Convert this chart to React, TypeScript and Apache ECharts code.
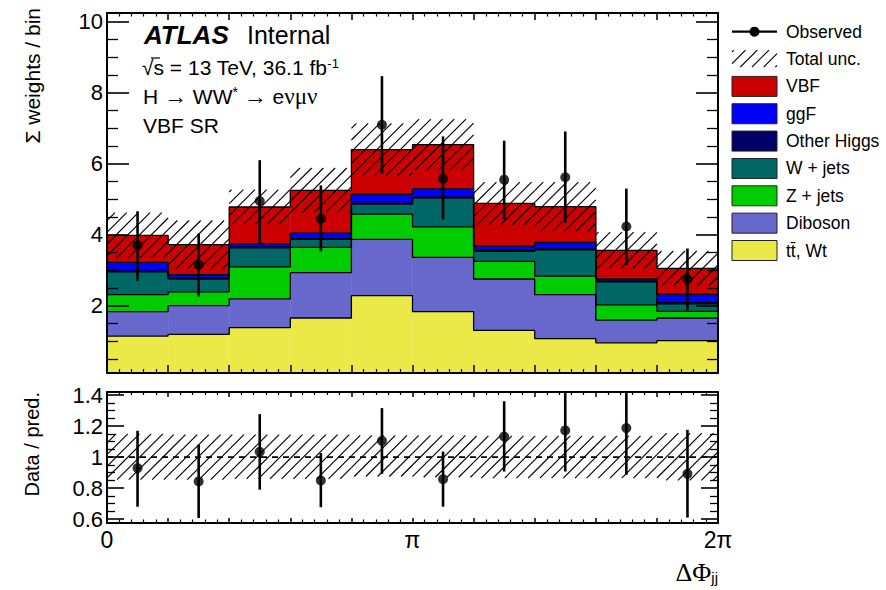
import React, { useEffect, useRef } from "react";
import * as echarts from "echarts";

// ---------------- data ----------------
const binCount = 10;
const xTickValues = [0, 5, 10];
const xTickLabels = ["0", "π", "2π"];
const yTopTicks = [2, 4, 6, 8, 10];
const yTopTickLabels = ["2", "4", "6", "8", "10"];
const yRatioTicks = [0.6, 0.8, 1, 1.2, 1.4];
const yRatioTickLabels = ["0.6", "0.8", "1", "1.2", "1.4"];

// stack components, bottom to top
const ttbarWt = [1.14, 1.19, 1.38, 1.65, 2.28, 1.83, 1.3, 1.07, 0.95, 1.01];
const diboson = [0.69, 0.81, 0.81, 1.28, 1.59, 1.53, 1.45, 1.24, 0.64, 0.64];
const zJets = [0.48, 0.39, 0.9, 0.71, 0.71, 0.86, 0.5, 0.52, 0.43, 0.19];
const wJets = [0.64, 0.36, 0.54, 0.23, 0.28, 0.81, 0.28, 0.74, 0.65, 0.21];
const otherHiggs = [0.02, 0.02, 0.02, 0.02, 0.03, 0.03, 0.03, 0.03, 0.03, 0.03];
const ggF = [0.25, 0.1, 0.09, 0.15, 0.25, 0.23, 0.12, 0.18, 0.05, 0.24];
const vbf = [0.76, 0.85, 1.04, 1.21, 1.26, 1.25, 1.2, 1.01, 0.81, 0.73];

const totalUnc = [0.64, 0.68, 0.49, 0.63, 0.74, 0.72, 0.6, 0.69, 0.51, 0.49];

const observed = [3.7, 3.15, 4.95, 4.45, 7.1, 5.58, 5.55, 5.62, 4.23, 2.74];
const observedLow = [2.7, 2.26, 3.76, 3.53, 5.72, 4.43, 4.43, 4.34, 3.15, 1.86];
const observedHigh = [4.66, 4.03, 6.1, 5.39, 8.47, 6.77, 6.65, 6.91, 5.3, 3.61];

const ratio = [0.929, 0.843, 1.034, 0.849, 1.105, 0.858, 1.133, 1.172, 1.187, 0.892];
const ratioLow = [0.68, 0.607, 0.79, 0.677, 0.892, 0.68, 0.907, 0.907, 0.886, 0.61];
const ratioHigh = [1.17, 1.08, 1.277, 1.026, 1.316, 1.036, 1.36, 1.44, 1.49, 1.176];
const ratioBandLow = [0.855, 0.855, 0.86, 0.86, 0.875, 0.87, 0.865, 0.865, 0.865, 0.85];
const ratioBandHigh = [1.15, 1.145, 1.145, 1.145, 1.14, 1.14, 1.137, 1.137, 1.137, 1.155];

const componentNames = ["tt̄, Wt", "Diboson", "Z + jets", "W + jets", "Other Higgs", "ggF", "VBF"];
const componentValues = [ttbarWt, diboson, zJets, wJets, otherHiggs, ggF, vbf];

// ---------------- styles ----------------
const componentColors = ["#EBE948", "#6767CC", "#00CC00", "#006767", "#000066", "#0000FF", "#CC0000"];
const FONT = "'Liberation Sans', Arial, Helvetica, sans-serif";
const SERIF = "'Liberation Serif', 'DejaVu Serif', serif";
const TOP_GRID = { left: 107, top: 13, width: 611, height: 360 };
const RAT_GRID = { left: 107, top: 392, width: 611, height: 131 };
const Y_TOP = [0.1, 10.25];
const Y_RAT = [0.575, 1.42];
const HATCH = 11.7;
const HATCH_W = 1.15;

function rangeSteps(a: number, b: number, step: number, skip: number[]) {
  const out: number[] = [];
  for (let k = 0; ; k++) {
    const v = Math.round((a + k * step) * 1000) / 1000;
    if (v > b + 1e-9) break;
    if (!skip.some((s) => Math.abs(s - v) < 1e-9)) out.push(v);
  }
  return out;
}

function hatchLines(x0: number, y0: number, x1: number, y1: number, s: number, lw: number) {
  const res: any[] = [];
  const cStart = Math.ceil((x0 + y0) / s) * s;
  for (let c = cStart; c <= x1 + y1; c += s) {
    const xa = Math.max(x0, c - y1);
    const xb = Math.min(x1, c - y0);
    if (xb - xa > 0.4) {
      res.push({
        type: "line",
        shape: { x1: xa, y1: c - xa, x2: xb, y2: c - xb },
        style: { stroke: "#000", lineWidth: lw },
      });
    }
  }
  return res;
}

function xAxisDef(gridIndex: number, position: string, majorLen: number, minorLen: number, labels: boolean) {
  return {
    type: "value",
    gridIndex,
    position,
    min: 0,
    max: binCount,
    interval: 1,
    z: 10,
    axisLine: { show: true, onZero: false, lineStyle: { color: "#000", width: 2 } },
    axisTick: { show: true, inside: true, length: majorLen, lineStyle: { color: "#000", width: 1.5 } },
    minorTick: { show: true, splitNumber: 5, length: minorLen, lineStyle: { color: "#000", width: 1.2 } },
    splitLine: { show: false },
    minorSplitLine: { show: false },
    axisLabel: labels
      ? {
          show: true,
          customValues: xTickValues,
          showMinLabel: true,
          showMaxLabel: true,
          margin: 5,
          color: "#000",
          fontSize: 23,
          fontFamily: FONT,
          formatter: (v: number) => {
            const idx = xTickValues.findIndex((t) => Math.abs(t - v) < 1e-6);
            return idx >= 0 ? xTickLabels[idx] : "";
          },
        }
      : { show: false },
  };
}

function yAxisDef(
  gridIndex: number,
  position: string,
  range: number[],
  values: number[],
  len: number,
  width: number,
  labels: string[] | null,
  showLine: boolean
) {
  return {
    type: "value",
    gridIndex,
    position,
    min: range[0],
    max: range[1],
    z: 10,
    axisLine: { show: showLine, onZero: false, lineStyle: { color: "#000", width: 2 } },
    axisTick: { show: true, inside: true, length: len, customValues: values, lineStyle: { color: "#000", width } },
    minorTick: { show: false },
    splitLine: { show: false },
    axisLabel: labels
      ? {
          show: true,
          customValues: values,
          margin: 4,
          color: "#000",
          fontSize: 22,
          fontFamily: FONT,
          formatter: (v: number) => {
            const idx = values.findIndex((t) => Math.abs(t - v) < 1e-6);
            return idx >= 0 ? labels[idx] : "";
          },
        }
      : { show: false },
  };
}

function buildOption() {
  // cumulative stack bases
  const bases: number[][] = [];
  let base = new Array(binCount).fill(0);
  componentValues.forEach((vals) => {
    bases.push(base.slice());
    base = base.map((b, i) => b + vals[i]);
  });
  const totals = base;

  const series: any[] = [];

  // stack fills
  componentValues.forEach((vals, k) => {
    series.push({
      type: "custom",
      name: componentNames[k],
      xAxisIndex: 0,
      yAxisIndex: 0,
      z: 2,
      silent: true,
      data: vals.map((v, i) => [i, bases[k][i], bases[k][i] + v]),
      renderItem: (params: any, api: any) => {
        const cs = params.coordSys;
        const i = api.value(0);
        const a = api.coord([i, api.value(1)]);
        const b = api.coord([i + 1, api.value(2)]);
        const yb = Math.min(a[1], cs.y + cs.height);
        return {
          type: "rect",
          shape: { x: a[0], y: b[1], width: b[0] - a[0] + 0.4, height: yb - b[1] },
          style: { fill: componentColors[k] },
        };
      },
    });
  });

  // stack outlines
  componentValues.forEach((vals, k) => {
    const tops = vals.map((v, i) => bases[k][i] + v);
    series.push({
      type: "line",
      xAxisIndex: 0,
      yAxisIndex: 0,
      step: "end",
      symbol: "none",
      silent: true,
      z: 3,
      lineStyle: { color: "#000", width: 1.3 },
      data: [...tops.map((t, i) => [i, t]), [binCount, tops[binCount - 1]]],
    });
  });

  // total uncertainty hatch (main panel)
  series.push({
    type: "custom",
    xAxisIndex: 0,
    yAxisIndex: 0,
    z: 4,
    silent: true,
    data: totals.map((t, i) => [i, t - totalUnc[i], t + totalUnc[i]]),
    renderItem: (params: any, api: any) => {
      const i = api.value(0);
      const a = api.coord([i, api.value(1)]);
      const b = api.coord([i + 1, api.value(2)]);
      return { type: "group", children: hatchLines(a[0], b[1], b[0], a[1], HATCH, HATCH_W) };
    },
  });

  // observed error bars
  series.push({
    type: "custom",
    xAxisIndex: 0,
    yAxisIndex: 0,
    z: 5,
    silent: true,
    data: observed.map((_, i) => [i + 0.5, observedLow[i], observedHigh[i]]),
    renderItem: (params: any, api: any) => {
      const a = api.coord([api.value(0), api.value(1)]);
      const b = api.coord([api.value(0), api.value(2)]);
      return {
        type: "line",
        shape: { x1: a[0], y1: a[1], x2: b[0], y2: b[1] },
        style: { stroke: "#000", lineWidth: 2.6 },
      };
    },
  });
  series.push({
    type: "scatter",
    name: "Observed",
    xAxisIndex: 0,
    yAxisIndex: 0,
    z: 6,
    silent: true,
    symbol: "circle",
    symbolSize: 10,
    itemStyle: { color: "#000" },
    data: observed.map((v, i) => [i + 0.5, v]),
  });

  // ratio band hatch
  series.push({
    type: "custom",
    xAxisIndex: 2,
    yAxisIndex: 4,
    z: 2,
    silent: true,
    data: ratioBandLow.map((lo, i) => [i, lo, ratioBandHigh[i]]),
    renderItem: (params: any, api: any) => {
      const i = api.value(0);
      const a = api.coord([i, api.value(1)]);
      const b = api.coord([i + 1, api.value(2)]);
      return { type: "group", children: hatchLines(a[0], b[1], b[0], a[1], HATCH, HATCH_W) };
    },
  });
  // dashed unity line
  series.push({
    type: "line",
    xAxisIndex: 2,
    yAxisIndex: 4,
    z: 3,
    silent: true,
    symbol: "none",
    lineStyle: { color: "#000", width: 1.8, type: [6, 5] },
    data: [
      [0, 1],
      [binCount, 1],
    ],
  });
  // ratio error bars
  series.push({
    type: "custom",
    xAxisIndex: 2,
    yAxisIndex: 4,
    z: 5,
    silent: true,
    data: ratio.map((_, i) => [i + 0.5, ratioLow[i], ratioHigh[i]]),
    renderItem: (params: any, api: any) => {
      const cs = params.coordSys;
      const a = api.coord([api.value(0), api.value(1)]);
      const b = api.coord([api.value(0), api.value(2)]);
      const y1 = Math.min(a[1], cs.y + cs.height);
      const y2 = Math.max(b[1], cs.y);
      return {
        type: "line",
        shape: { x1: a[0], y1, x2: b[0], y2 },
        style: { stroke: "#000", lineWidth: 2.6 },
      };
    },
  });
  series.push({
    type: "scatter",
    xAxisIndex: 2,
    yAxisIndex: 4,
    z: 6,
    silent: true,
    symbol: "circle",
    symbolSize: 10,
    itemStyle: { color: "#000" },
    data: ratio.map((v, i) => [i + 0.5, v]),
  });

  const topMinor = rangeSteps(0.5, 10, 0.5, yTopTicks);
  const ratMinor = rangeSteps(0.6, 1.4, 0.05, yRatioTicks);

  // ---- graphic: texts and legend ----
  const graphic: any[] = [];
  const txt = (x: number, y: number, text: string, size: number, extra: any = {}) => ({
    type: "text",
    x,
    y,
    z: 30,
    silent: true,
    ...(extra.rotation !== undefined ? { rotation: extra.rotation } : {}),
    style: {
      text,
      fill: "#000",
      fontSize: size,
      fontFamily: extra.fontFamily || FONT,
      fontWeight: extra.fontWeight || "normal",
      fontStyle: extra.fontStyle || "normal",
      textAlign: extra.align || "left",
      textVerticalAlign: "middle",
      verticalAlign: "middle",
      rich: extra.rich,
    },
  });

  graphic.push(txt(144, 35, "ATLAS", 26, { fontWeight: "bold", fontStyle: "italic" }));
  graphic.push(txt(247, 35, "Internal", 25));
  graphic.push(
    txt(142, 67, "√s = 13 TeV, 36.1 fb{sup|-1}", 21, {
      rich: { sup: { fontSize: 13, fontFamily: FONT, verticalAlign: "top", lineHeight: 13 } },
    })
  );
  graphic.push({
    type: "line",
    z: 30,
    silent: true,
    shape: { x1: 151, y1: 58, x2: 160, y2: 58 },
    style: { stroke: "#000", lineWidth: 1.2 },
  });
  graphic.push(
    txt(143, 96, "H {sym|→} WW{sup|*} {sym|→} e{gr|νμν}", 21, {
      rich: {
        sym: { fontSize: 23, fontFamily: SERIF },
        gr: { fontSize: 23, fontFamily: SERIF },
        sup: { fontSize: 14, fontFamily: FONT, verticalAlign: "top", lineHeight: 14 },
      },
    })
  );
  graphic.push(txt(143, 125, "VBF SR", 21));

  // axis titles
  graphic.push(txt(32, 8, "Σ weights / bin", 21, { rotation: Math.PI / 2, align: "right" }));
  graphic.push(txt(32, 392, "Data / pred.", 20, { rotation: Math.PI / 2, align: "right" }));
  graphic.push(
    txt(718, 572, "{big|ΔΦ}{sub|jj}", 26, {
      align: "right",
      rich: {
        big: { fontSize: 26, fontFamily: SERIF, lineHeight: 26 },
        sub: { fontSize: 15, fontFamily: FONT, verticalAlign: "bottom", lineHeight: 15 },
      },
    })
  );

  // legend
  const LX = 732,
    LW = 45,
    LT = 786,
    LY0 = 31.7,
    LDY = 27.35;
  const legendNames = ["Observed", "Total unc.", ...componentNames.slice().reverse()];
  const legendColors = componentColors.slice().reverse();
  legendNames.forEach((name, r) => {
    const cy = LY0 + r * LDY;
    if (r === 0) {
      graphic.push({
        type: "line",
        z: 30,
        silent: true,
        shape: { x1: LX, y1: cy, x2: LX + LW, y2: cy },
        style: { stroke: "#000", lineWidth: 2.2 },
      });
      graphic.push({
        type: "circle",
        z: 31,
        silent: true,
        shape: { cx: LX + LW / 2, cy, r: 5 },
        style: { fill: "#000" },
      });
    } else if (r === 1) {
      graphic.push({
        type: "group",
        z: 30,
        silent: true,
        children: hatchLines(LX, cy - 9, LX + LW, cy + 8, HATCH, HATCH_W),
      });
    } else {
      graphic.push({
        type: "rect",
        z: 30,
        silent: true,
        shape: { x: LX, y: cy - 10, width: LW, height: 20 },
        style: { fill: legendColors[r - 2], stroke: "#222", lineWidth: 1 },
      });
    }
    graphic.push(txt(LT, cy, name, 17.5));
  });

  return {
    animation: false,
    backgroundColor: "#fff",
    grid: [
      { ...TOP_GRID, containLabel: false },
      { ...RAT_GRID, containLabel: false },
    ],
    xAxis: [
      xAxisDef(0, "bottom", 8, 4, false),
      xAxisDef(0, "top", 7, 3.5, false),
      xAxisDef(1, "bottom", 5, 3.5, true),
      xAxisDef(1, "top", 5, 3, false),
    ],
    yAxis: [
      yAxisDef(0, "left", Y_TOP, yTopTicks, 22, 1.6, yTopTickLabels, true),
      yAxisDef(0, "left", Y_TOP, topMinor, 11, 1.3, null, false),
      yAxisDef(0, "right", Y_TOP, yTopTicks, 22, 1.6, null, true),
      yAxisDef(0, "right", Y_TOP, topMinor, 11, 1.3, null, false),
      yAxisDef(1, "left", Y_RAT, yRatioTicks, 17, 1.6, yRatioTickLabels, true),
      yAxisDef(1, "left", Y_RAT, ratMinor, 8, 1.3, null, false),
      yAxisDef(1, "right", Y_RAT, yRatioTicks, 17, 1.6, null, true),
      yAxisDef(1, "right", Y_RAT, ratMinor, 8, 1.3, null, false),
    ],
    series,
    graphic,
  };
}

export default function App() {
  const ref = useRef<HTMLDivElement>(null);
  useEffect(() => {
    const chart = echarts.init(ref.current!, null, { renderer: "svg" });
    chart.setOption(buildOption() as any);
    return () => chart.dispose();
  }, []);
  return (
    <div
      ref={ref}
      style={{ position: "fixed", left: 0, top: 0, width: 886, height: 590, background: "#fff" }}
    />
  );
}
